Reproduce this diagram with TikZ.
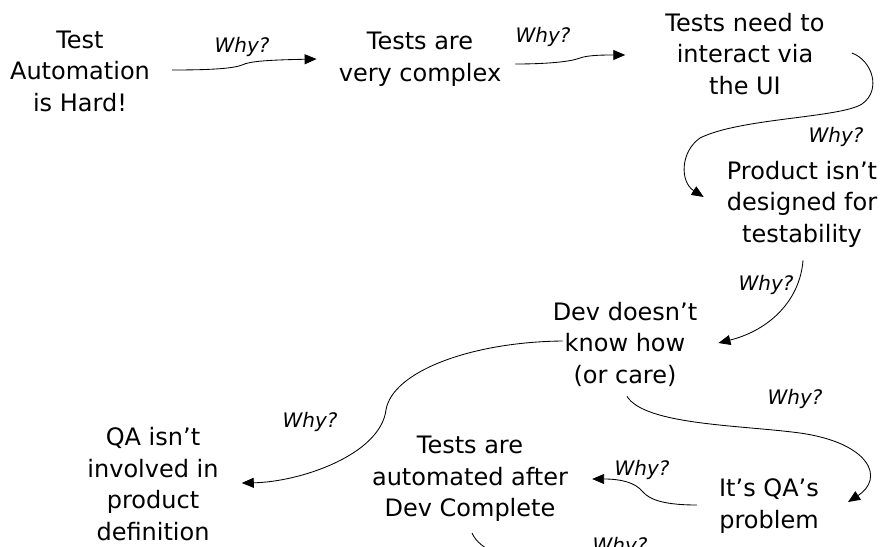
\documentclass[tikz,border=0pt]{standalone}
\usepackage{fontspec}
\setmainfont{DejaVu Sans}
\usetikzlibrary{arrows.meta,calc}
\tikzset{
  idea/.style={align=center, inner sep=0pt, font=\fontsize{24pt}{31.5pt}\selectfont},
  why/.style={inner sep=0pt, font=\fontsize{20pt}{24pt}\selectfont\itshape},
  arr/.style={line width=0.85pt, -{Triangle[length=12pt,width=10pt]}}
}
\begin{document}
\begin{tikzpicture}[x=1pt,y=-1pt]
\useasboundingbox (0,0) rectangle (888,546);
\clip (0,0) rectangle (888,546);
% nodes
\node[idea] (n1) at (80,71) {Test\\Automation\\is Hard!};
\node[idea] (n2) at (420,59) {Tests are\\very complex};
\node[idea] (n3) at (745,54) {Tests need to\\interact via\\the UI};
\node[idea] (n4) at (802,204) {Product isn't\\designed for\\testability};
\node[idea] (n5) at (625,344) {Dev doesn't\\know how\\(or care)};
\node[idea] (n6) at (153,484) {QA isn't\\involved in\\product\\definition};
\node[idea] (n7) at (470,479) {Tests are\\automated after\\Dev Complete};
\node[idea] (n8) at (769,506) {It's QA's\\problem};
\coordinate (e8) at (500,556);
% why labels
\node[why] (w1) at (242,47) {Why?};
\node[why] (w2) at (543,37) {Why?};
\node[why] (w3) at (836,137) {Why?};
\node[why] (w4) at (766,285) {Why?};
\node[why] (w5) at (310,422) {Why?};
\node[why] (w6) at (795,399) {Why?};
\node[why] (w7) at (642,470) {Why?};
\node[why] (w8) at (620,547) {Why?};
% connectors
\draw[arr] ($(n1.east)+(22,-1)$) .. controls (205,70) and (232,69) .. (242,65)
  .. controls (250,61) and (270,60) .. ($(n2.west)+(-22,0)$);
\draw[arr] ($(n2.east)+(14,5)$) .. controls (545,64) and (570,62) .. (580,58)
  .. controls (588,55) and (605,55) .. ($(n3.west)+(-40,1)$);
\draw[arr] ($(n3.east)+(27,-1)$) .. controls (872,60) and (882,90) .. (862,104)
  .. controls (840,118) and (740,118) .. (700,138)
  .. controls (680,152) and (680,182) .. ($(n4.west)+(-23,-7)$);
\draw[arr] ($(n4.south)+(1,13)$) .. controls (800,300) and (770,330) .. ($(n5.east)+(21,-1)$);
\draw[arr] ($(n5.west)+(10,-3)$) .. controls (470,342) and (392,372) .. (386,410)
  .. controls (380,455) and (300,482) .. ($(n6.east)+(23,-1)$);
\draw[arr] ($(n5.south)+(2,10)$) .. controls (645,425) and (740,425) .. (800,433)
  .. controls (870,443) and (885,478) .. ($(n8.east)+(29,-4)$);
\draw[arr] ($(n8.west)+(-22,-1)$) .. controls (665,505) and (650,500) .. (643,492)
  .. controls (635,482) and (620,479) .. ($(n7.east)+(24,0)$);
\draw[line width=0.85pt] ($(n7.south)+(2,11)$) .. controls (476,542) and (484,548) .. (e8);
\end{tikzpicture}
\end{document}
